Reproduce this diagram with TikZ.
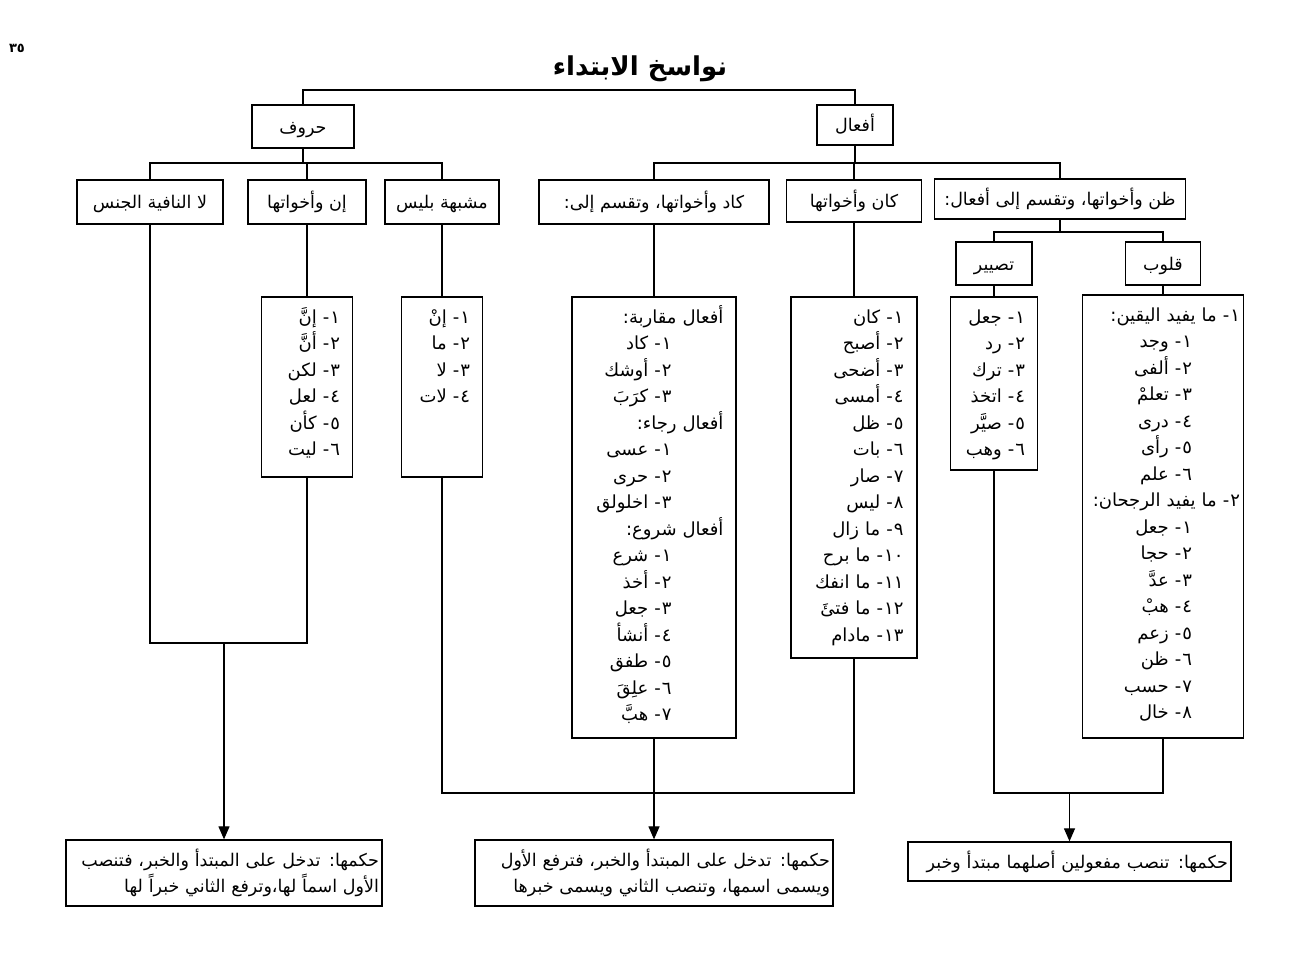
\documentclass[tikz,border=0pt]{standalone}
\usepackage{fontspec}
\usetikzlibrary{arrows.meta}
\TeXXeTstate=1
\newfontfamily\ar[Script=Arabic]{DejaVu Sans}
\newcommand\R[1]{\beginR #1\endR}
\newcommand\NI[2]{\beginR #1\kern1pt-\ #2\endR}
\newcommand\TD[2]{\beginL #1\kern0pt #2\endL}
\newcommand\ind{\hbox to 52pt{}}
\newcommand\indq{\hbox to 48pt{}}
\begin{document}
\begin{tikzpicture}[x=1pt,y=-1pt,
  box/.style={draw,line width=1.3pt,inner sep=0pt},
  lab/.style={font=\ar\fontsize{17.5}{20}\selectfont,text height=14pt,text depth=0pt},
  lst/.style={font=\ar\fontsize{18}{26.5}\selectfont,align=right,inner sep=0pt,anchor=base east},
  res/.style={draw,line width=1.3pt,inner xsep=3pt,inner ysep=0pt,align=right,font=\ar\fontsize{17.5}{26}\selectfont},
  con/.style={line width=1.2pt},
  arr/.style={con,-{Triangle[length=13pt,width=11pt]}}]
\useasboundingbox (0,0) rectangle (1313,968);
% page number and title
\node[font=\ar\bfseries\fontsize{13}{15}\selectfont] (pg) at (17,48) {٣\kern0pt٥};
\node[font=\ar\bfseries\fontsize{26}{32}\selectfont] (title) at (640,69) {\R{نواسخ الابتداء}};
% level 1
\node[box,lab,minimum width=102,minimum height=43] (hur) at (303,126.5) {\R{حروف}};
\node[box,lab,minimum width=76,minimum height=40] (afa) at (855,125) {\R{أفعال}};
% level 2
\node[box,lab,minimum width=146,minimum height=44] (laa) at (150,202) {\R{لا النافية الجنس}};
\node[box,lab,minimum width=118,minimum height=44] (inn) at (307,202) {\R{إن وأخواتها}};
\node[box,lab,minimum width=114,minimum height=44] (mus) at (442,202) {\R{مشبهة بليس}};
\node[box,lab,minimum width=230,minimum height=44] (kad) at (654,202) {\R{كاد وأخواتها، وتقسم إلى:}};
\node[box,lab,minimum width=135,minimum height=42] (kan) at (854,201) {\R{كان وأخواتها}};
\node[box,lab,minimum width=251,minimum height=40] (zan) at (1060,199) {\R{ظن وأخواتها، وتقسم إلى أفعال:}};
\node[box,lab,minimum width=76,minimum height=43] (tas) at (994,263.5) {\R{تصيير}};
\node[box,lab,minimum width=75,minimum height=43] (qul) at (1163,263.5) {\R{قلوب}};
% list boxes
\node[box,minimum width=91,minimum height=180] (innL) at (307,387) {};
\node[box,minimum width=81,minimum height=180] (musL) at (442,387) {};
\node[box,minimum width=164,minimum height=441] (kadL) at (654,517.5) {};
\node[box,minimum width=126,minimum height=361] (kanL) at (854,477.5) {};
\node[box,minimum width=87,minimum height=173] (tasL) at (994,383.5) {};
\node[box,minimum width=161,minimum height=443] (qulL) at (1163,516.5) {};
% list texts
\node[lst,text width=75pt] (innT) at ([xshift=-13pt,yshift=-27pt]innL.north east) {%
\NI{١}{إنَّ}\\ \NI{٢}{أنَّ}\\ \NI{٣}{لكن}\\ \NI{٤}{لعل}\\ \NI{٥}{كأن}\\ \NI{٦}{ليت}};
\node[lst,text width=65pt] (musT) at ([xshift=-13pt,yshift=-27pt]musL.north east) {%
\NI{١}{إنْ}\\ \NI{٢}{ما}\\ \NI{٣}{لا}\\ \NI{٤}{لات}};
\node[lst,text width=148pt] (kadT) at ([xshift=-13pt,yshift=-27pt]kadL.north east) {%
\R{أفعال مقاربة:}\\
\NI{١}{كاد}\ind\\ \NI{٢}{أوشك}\ind\\ \NI{٣}{كرَبَ}\ind\\
\R{أفعال رجاء:}\\
\NI{١}{عسى}\ind\\ \NI{٢}{حرى}\ind\\ \NI{٣}{اخلولق}\ind\\
\R{أفعال شروع:}\\
\NI{١}{شرع}\ind\\ \NI{٢}{أخذ}\ind\\ \NI{٣}{جعل}\ind\\ \NI{٤}{أنشأ}\ind\\
\NI{٥}{طفق}\ind\\ \NI{٦}{علِقَ}\ind\\ \NI{٧}{هبَّ}\ind};
\node[lst,text width=110pt] (kanT) at ([xshift=-14pt,yshift=-27pt]kanL.north east) {%
\NI{١}{كان}\\ \NI{٢}{أصبح}\\ \NI{٣}{أضحى}\\ \NI{٤}{أمسى}\\ \NI{٥}{ظل}\\
\NI{٦}{بات}\\ \NI{٧}{صار}\\ \NI{٨}{ليس}\\ \beginR ٩\kern1pt-\ ما زال\endR\\
\beginR\TD{١}{٠}\kern1pt-\ ما برح\endR\\ \beginR\TD{١}{١}\kern1pt-\ ما انفك\endR\\
\beginR\TD{١}{٢}\kern1pt-\ ما فتئَ\endR\\ \NI{\TD{١}{٣}}{مادام}};
\node[lst,text width=72pt] (tasT) at ([xshift=-13pt,yshift=-27pt]tasL.north east) {%
\NI{١}{جعل}\\ \NI{٢}{رد}\\ \NI{٣}{ترك}\\ \NI{٤}{اتخذ}\\ \NI{٥}{صيَّر}\\ \NI{٦}{وهب}};
\node[lst,text width=152pt] (qulT) at ([xshift=-4pt,yshift=-27pt]qulL.north east) {%
\beginR ١\kern1pt-\ ما يفيد اليقين:\endR\\
\NI{١}{وجد}\indq\\ \NI{٢}{ألفى}\indq\\ \NI{٣}{تعلمْ}\indq\\ \NI{٤}{درى}\indq\\
\NI{٥}{رأى}\indq\\ \NI{٦}{علم}\indq\\
\beginR ٢\kern1pt-\ ما يفيد الرجحان:\endR\\
\NI{١}{جعل}\indq\\ \NI{٢}{حجا}\indq\\ \NI{٣}{عدَّ}\indq\\ \NI{٤}{هبْ}\indq\\
\NI{٥}{زعم}\indq\\ \NI{٦}{ظن}\indq\\ \NI{٧}{حسب}\indq\\ \NI{٨}{خال}\indq};
% result boxes
\node[res,text width=310pt,minimum height=66] (res1) at (224,873) {%
\R{حكمها: تدخل على المبتدأ والخبر، فتنصب}\\ \R{الأول اسماً لها،وترفع الثاني خبراً لها}};
\node[res,text width=352pt,minimum height=66] (res2) at (654,873) {%
\R{حكمها: تدخل على المبتدأ والخبر، فترفع الأول}\\ \R{ويسمى اسمها، وتنصب الثاني ويسمى خبرها}};
\node[res,text width=317pt,minimum height=39] (res3) at (1069.5,861.5) {%
\R{حكمها: تنصب مفعولين أصلهما مبتدأ وخبر}};
% connectors
\coordinate (tb) at (0,90);
\draw[con] (hur.north) -- (hur.north |- tb) -- (afa.north |- tb) -- (afa.north);
\coordinate (hb) at (0,163);
\draw[con] (hur.south) -- (hur.south |- hb);
\draw[con] (laa.north) -- (laa.north |- hb) -- (mus.north |- hb) -- (mus.north);
\draw[con] (inn.north) -- (inn.north |- hb);
\draw[con] (afa.south) -- (afa.south |- hb);
\draw[con] (kad.north) -- (kad.north |- hb) -- (zan.north |- hb) -- (zan.north);
\draw[con] (kan.north) -- (kan.north |- hb);
\coordinate (qb) at (0,232);
\draw[con] (zan.south) -- (zan.south |- qb);
\draw[con] (tas.north) -- (tas.north |- qb) -- (qul.north |- qb) -- (qul.north);
\draw[con] (inn.south) -- (innL.north);
\draw[con] (mus.south) -- (musL.north);
\draw[con] (kad.south) -- (kadL.north);
\draw[con] (kan.south) -- (kanL.north);
\draw[con] (tas.south) -- (tasL.north);
\draw[con] (qul.south) -- (qulL.north);
\coordinate (j1) at (0,643);
\draw[con] (laa.south) -- (laa.south |- j1) -- (innL.south |- j1) -- (innL.south);
\draw[arr] (res1.north |- j1) -- (res1.north);
\coordinate (j2) at (0,793);
\draw[con] (musL.south) -- (musL.south |- j2) -- (kanL.south |- j2) -- (kanL.south);
\draw[arr] (kadL.south) -- (res2.north);
\draw[con] (tasL.south) -- (tasL.south |- j2) -- (qulL.south |- j2) -- (qulL.south);
\draw[arr] (res3.north |- j2) -- (res3.north);
\end{tikzpicture}
\end{document}
